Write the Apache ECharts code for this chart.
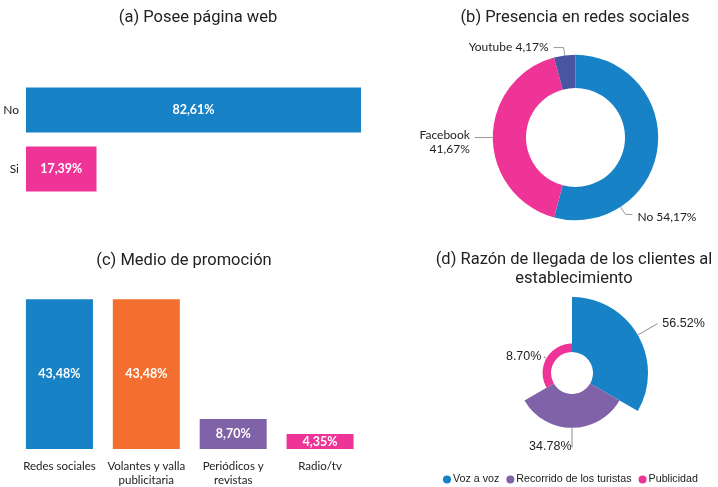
<!DOCTYPE html>
<html>
<head>
<meta charset="utf-8">
<script src="https://cdn.jsdelivr.net/npm/echarts@6/dist/echarts.min.js"></script>
<style>
  html, body { margin: 0; padding: 0; background: #fff; }
  #main { width: 718px; height: 487px; }
</style>
</head>
<body>
<div id="main"></div>
<script>
// (a) Posee página web
const webCats = ['No', 'Si'];
const webVals = [82.61, 17.39];
const webColors = ['#1782c5', '#ee3497'];

// (b) Presencia en redes sociales
const redesNames = ['No', 'Facebook', 'Youtube'];
const redesVals = [54.17, 41.67, 4.17];
const redesColors = ['#1782c5', '#ee3497', '#4a55a2'];

// (c) Medio de promoción
const promoCats = ['Redes sociales', 'Volantes y valla\npublicitaria', 'Periódicos y\nrevistas', 'Radio/tv'];
const promoVals = [43.48, 43.48, 8.70, 4.35];
const promoColors = ['#1782c5', '#f26f2f', '#7f62a8', '#ee3497'];

// (d) Razón de llegada
const llegadaNames = ['Voz a voz', 'Recorrido de los turistas', 'Publicidad'];
const llegadaVals = [56.52, 34.78, 8.70];
const llegadaColors = ['#1782c5', '#7f62a8', '#ee3497'];

const titleFont = 'Roboto';
const textFont = 'Lato';
const comma = v => v.toFixed(2).replace('.', ',') + '%';

const chart = echarts.init(document.getElementById('main'), null, { renderer: 'canvas' });

const titleStyle = { fontFamily: titleFont, fontSize: 16.5, fontWeight: 'normal', color: '#222', lineHeight: 19 };

// línea guía: punto en el borde, tramo radial, tramo horizontal
function guide(c, r, deg, len, len2) {
    const a = deg * Math.PI / 180;
    const s = Math.sin(a), k = -Math.cos(a);
    const p0 = [c[0] + r * s, c[1] + r * k];
    const p1 = [p0[0] + len * s, p0[1] + len * k];
    const p2 = [p1[0] + len2, p1[1]];
    return [p0, p1, p2];
}

// dona (b): la etiqueta "No" va abajo a la derecha
const donutC = [575.5, 137.5], donutR = [49.5, 82.7];
const noLine = guide(donutC, donutR[1], 147, 9, 7);

// rosa (d): ángulos iguales, radio según el valor
const roseC = [572, 373], roseR0 = 21, roseR = 76;
const roseMax = Math.max(...llegadaVals);
const roseLines = llegadaVals.map((v, i) => {
    const r = roseR0 + (roseR - roseR0) * v / roseMax;
    const mid = (i + 0.5) * 360 / llegadaVals.length;
    return guide(roseC, r, mid, [22, 19, 3][i], 0.5);
});

chart.setOption({
    animation: false,
    title: [
        { text: '(a) Posee página web', left: 198, top: 8, textAlign: 'center', padding: 0, textStyle: titleStyle },
        { text: '(b) Presencia en redes sociales', left: 575, top: 8, textAlign: 'center', padding: 0, textStyle: titleStyle },
        { text: '(c) Medio de promoción', left: 184, top: 251, textAlign: 'center', padding: 0, textStyle: titleStyle },
        { text: '(d) Razón de llegada de los clientes al\nestablecimiento', left: 574, top: 250, textAlign: 'center', padding: 0, textStyle: titleStyle }
    ],
    legend: {
        data: llegadaNames,
        left: 443,
        top: 474,
        width: 300,
        orient: 'horizontal',
        icon: 'circle',
        itemWidth: 8,
        itemHeight: 8,
        itemGap: 7,
        padding: 0,
        textStyle: { fontFamily: 'Liberation Sans', fontSize: 10.7, color: '#222', padding: [0, 0, 0, -3] }
    },
    grid: [
        { left: 26, top: 80.5, width: 335, height: 118 },
        { left: 16, top: 299.3, width: 347.5, height: 152.4 }
    ],
    xAxis: [
        { type: 'value', gridIndex: 0, min: 0, max: webVals[0], show: false },
        {
            type: 'category', gridIndex: 1, data: promoCats,
            axisLine: { show: false }, axisTick: { show: false },
            axisLabel: { interval: 0, margin: 10, fontFamily: textFont, fontSize: 11.5, color: '#222', lineHeight: 14 }
        }
    ],
    yAxis: [
        {
            type: 'category', gridIndex: 0, data: webCats, inverse: true,
            axisLine: { show: false }, axisTick: { show: false },
            axisLabel: { margin: 7, fontFamily: textFont, fontSize: 12, color: '#222' }
        },
        { type: 'value', gridIndex: 1, min: 0, max: promoVals[0], show: false }
    ],
    series: [
        {
            type: 'bar', xAxisIndex: 0, yAxisIndex: 0, barWidth: 45,
            data: webVals.map((v, i) => ({ value: v, itemStyle: { color: webColors[i] } })),
            label: {
                show: true, position: 'inside', formatter: p => comma(p.value),
                fontFamily: textFont, fontSize: 12.5, fontWeight: 'bold', color: '#fff'
            }
        },
        {
            type: 'bar', xAxisIndex: 1, yAxisIndex: 1, barWidth: 67,
            data: promoVals.map((v, i) => ({ value: v, itemStyle: { color: promoColors[i] } })),
            label: {
                show: true, position: 'inside', formatter: p => comma(p.value),
                fontFamily: textFont, fontSize: 12.5, fontWeight: 'bold', color: '#fff'
            }
        },
        {
            type: 'pie',
            center: donutC,
            radius: donutR,
            startAngle: 90,
            data: redesNames.map((n, i) => ({ name: n, value: redesVals[i], itemStyle: { color: redesColors[i] } })),
            label: {
                fontFamily: textFont, fontSize: 12, color: '#222', lineHeight: 14, overflow: 'none',
                formatter: p => p.name + (p.dataIndex === 1 ? '\n' : ' ') + comma(p.value)
            },
            labelLine: { length: 8, length2: 10, lineStyle: { color: '#999', width: 1 } },
            labelLayout: p => {
                if (p.dataIndex === 0) {
                    const end = noLine[2];
                    return { x: end[0] + 5, y: end[1] + 3, align: 'left', verticalAlign: 'middle', labelLinePoints: noLine };
                }
                if (p.dataIndex === 1) {
                    return { y: p.labelRect.y + p.labelRect.height / 2 + 4.5, verticalAlign: 'middle', labelLinePoints: p.labelLinePoints };
                }
            }
        },
        {
            type: 'pie',
            roseType: 'area',
            center: roseC,
            radius: [roseR0, roseR],
            startAngle: 90,
            data: llegadaNames.map((n, i) => ({ name: n, value: llegadaVals[i], itemStyle: { color: llegadaColors[i] } })),
            label: {
                fontFamily: 'Liberation Sans', fontSize: 12.5, color: '#222', overflow: 'none',
                formatter: p => p.value.toFixed(2) + '%'
            },
            labelLine: { show: true, lineStyle: { color: '#8c8c8c', width: 1 } },
            labelLayout: p => {
                const pts = roseLines[p.dataIndex];
                const end = pts[2];
                const left = p.dataIndex === 0;
                return {
                    x: left ? end[0] + 5 : end[0] - (p.dataIndex === 1 ? 1 : 3),
                    y: end[1],
                    align: left ? 'left' : 'right',
                    verticalAlign: 'middle',
                    labelLinePoints: pts
                };
            }
        }
    ]
});
</script>
</body>
</html>
